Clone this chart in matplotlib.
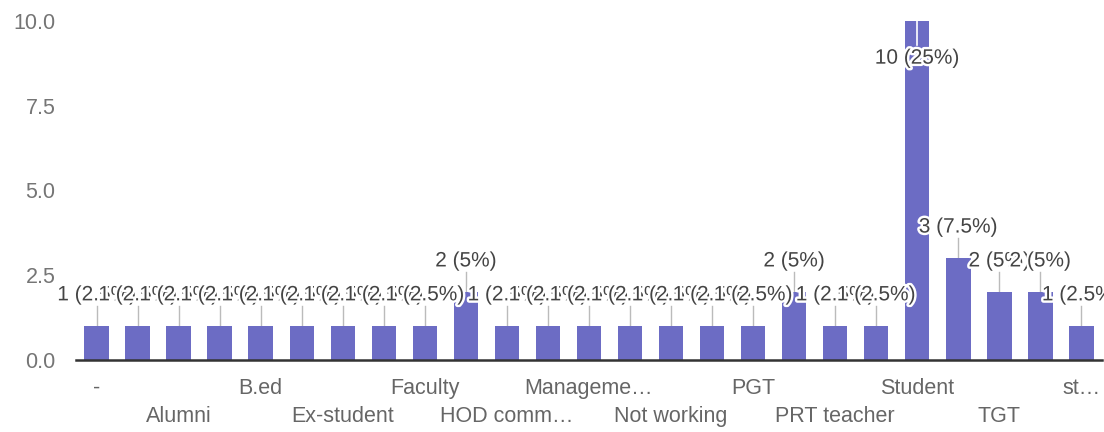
import matplotlib.pyplot as plt
import matplotlib.patheffects as pe

# Survey answers (only every other category name is shown on the axis)
tick_labels = ["-", "", "Alumni", "", "B.ed", "", "Ex-student", "", "Faculty", "",
               "HOD comm…", "", "Manageme…", "", "Not working", "", "PGT", "",
               "PRT teacher", "", "Student", "", "TGT", "", "st…"]
counts = [1, 1, 1, 1, 1, 1, 1, 1, 1, 2,
          1, 1, 1, 1, 1, 1, 1, 2, 1, 1,
          10, 3, 2, 2, 1]
total = 40
y_ticks = [0.0, 2.5, 5.0, 7.5, 10.0]

bar_color = "#6c6cc4"
plt.rcParams['font.family'] = ['Liberation Sans', 'DejaVu Sans']

fig = plt.figure(figsize=(11.04, 4.32), dpi=100)
ax = fig.add_axes([0.069, 0.1667, 0.929, 0.785])

x = list(range(len(counts)))
ax.bar(x, counts, width=0.6, color=bar_color, zorder=2)

ax.set_xlim(-0.5, len(counts) - 0.5)
ax.set_ylim(0, 10)
ax.set_yticks(y_ticks)
ax.set_yticklabels([f"{t:.1f}" for t in y_ticks], fontsize=15.5, color="#757575")

# alternate tick labels between two rows
rows = []
for i, lab in enumerate(tick_labels):
    rows.append(lab if i % 4 == 0 else "\n" + lab)
ax.set_xticks(x)
ax.set_xticklabels(rows, fontsize=15.5, color="#666666", linespacing=1.45)
ax.tick_params(axis='both', length=0)
ax.tick_params(axis='y', pad=15)
ax.tick_params(axis='x', pad=13)

for s in ["top", "right", "left"]:
    ax.spines[s].set_visible(False)
ax.spines["bottom"].set_color("#333333")
ax.spines["bottom"].set_linewidth(1.8)
ax.spines["bottom"].set_zorder(3)

# value annotations with stems
halo = [pe.withStroke(linewidth=3.5, foreground="white")]
for i, v in enumerate(counts):
    pct = v / total * 100
    txt = f"{v} ({pct:g}%)"
    if v >= 10:
        ax.plot([i, i], [v, v - 0.7], color="white", lw=1.2, zorder=3)
        ty = v - 1.1
    else:
        ax.plot([i, i], [v, v + 0.6], color="#bbbbbb", lw=1, zorder=1)
        ty = v + 0.92
    ax.text(i, ty, txt, ha="center", va="center", fontsize=15,
            color="#444444", path_effects=halo, zorder=4, clip_on=False)

fig.savefig("out.png", dpi=100)
